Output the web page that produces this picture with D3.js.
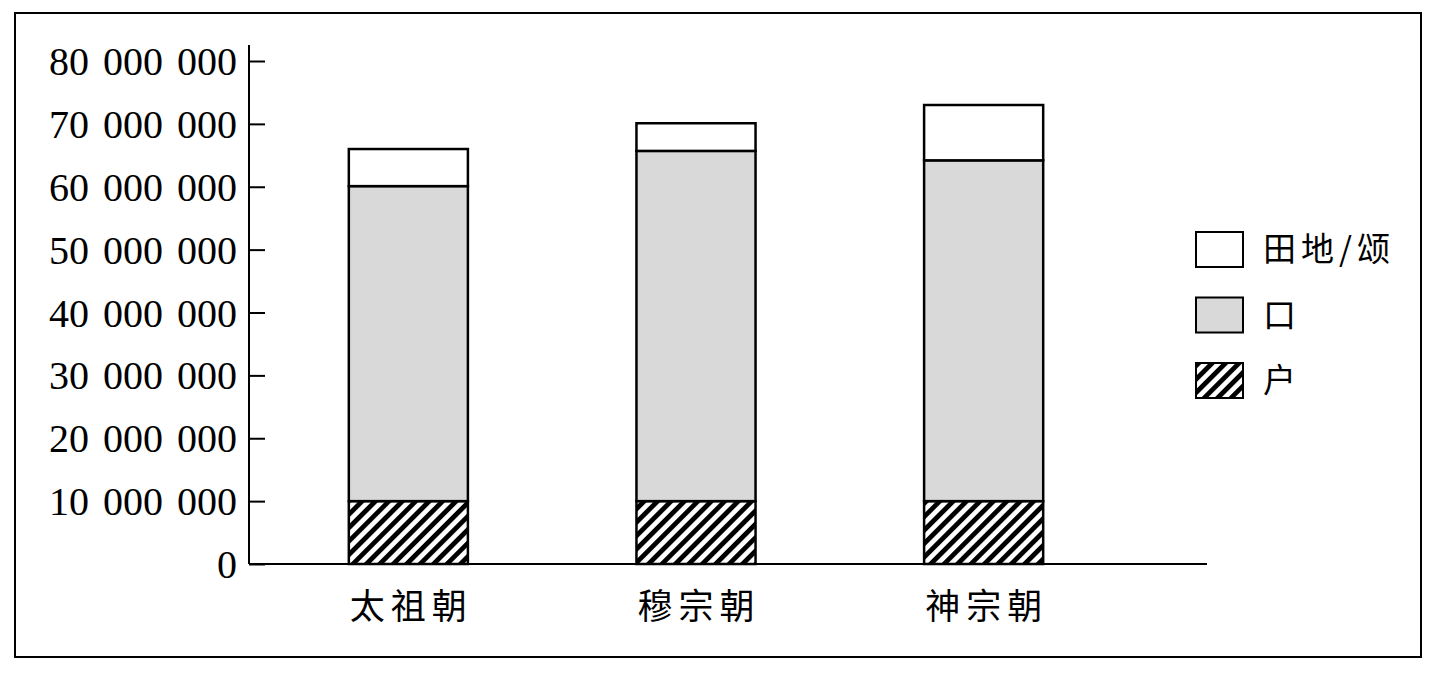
<!DOCTYPE html>
<html><head><meta charset="utf-8">
<script src="https://cdn.jsdelivr.net/npm/d3@7"></script>
<style>
html,body{margin:0;padding:0;background:#fff;}
svg{display:block;}
</style></head>
<body>
<svg id="chart" width="1435" height="675"></svg>
<script>
const categories = ["太祖朝", "穆宗朝", "神宗朝"];
const seriesNames = ["户", "口", "田地/颂"];
const huValues = [10000000, 10000000, 10000000];
const kouValues = [50100000, 55700000, 54200000];
const tianValues = [5900000, 4400000, 8800000];
const yTicks = [0, 10000000, 20000000, 30000000, 40000000, 50000000, 60000000, 70000000, 80000000];

(function () {
const svg = d3.select("#chart");
const serif = "'Liberation Serif','DejaVu Serif',serif";
const cjk = "'Noto Sans CJK SC','Noto Sans CJK JP',sans-serif";

// frame
svg.append("rect").attr("x", 15).attr("y", 13).attr("width", 1406).attr("height", 644)
  .attr("fill", "none").attr("stroke", "#000").attr("stroke-width", 2);

const defs = svg.append("defs");
const pat = defs.append("pattern").attr("id", "hatch").attr("patternUnits", "userSpaceOnUse")
  .attr("width", 9.5).attr("height", 9.5).attr("patternTransform", "rotate(45)");
pat.append("rect").attr("width", 9.5).attr("height", 9.5).attr("fill", "#fff");
pat.append("rect").attr("x", 0).attr("width", 4.8).attr("height", 9.5).attr("fill", "#000");

const pLeft = 249, pRight = 1207, pTop = 61, pBottom = 564;
const y = d3.scaleLinear().domain([0, 80000000]).range([pBottom, pTop]);
const x = d3.scaleBand().domain(categories).range([205, 1187]).paddingInner(0.586).paddingOuter(0.5);

const data = categories.map((c, i) => ({cat: c, hu: huValues[i], kou: kouValues[i], tian: tianValues[i]}));
const stack = d3.stack().keys(["hu", "kou", "tian"])(data);
const fills = {hu: "url(#hatch)", kou: "#d9d9d9", tian: "#fff"};

const g = svg.append("g");
stack.forEach(layer => {
  g.selectAll(null).data(layer).enter().append("rect")
    .attr("x", d => x(d.data.cat))
    .attr("width", x.bandwidth())
    .attr("y", d => y(d[1]))
    .attr("height", d => y(d[0]) - y(d[1]))
    .attr("fill", fills[layer.key])
    .attr("stroke", "#000").attr("stroke-width", 2.5);
});

// y axis
const yAxis = d3.axisRight(y).tickValues(yTicks).tickSize(16).tickFormat(() => "");
const ya = svg.append("g").attr("transform", `translate(${pLeft},0)`).call(yAxis);
ya.select(".domain").attr("d", `M0,${pTop - 16}V${pBottom}`).attr("stroke-width", 2);
ya.selectAll(".tick line").attr("stroke-width", 2);
svg.append("g").selectAll("text").data(yTicks).enter().append("text")
  .attr("x", pLeft - 12).attr("y", d => y(d)).attr("dy", "0.35em")
  .attr("text-anchor", "end").attr("font-family", serif).attr("font-size", 40)
  .attr("word-spacing", 4)
  .text(d => d3.format(",")(d).replace(/,/g, " "));

// x baseline
svg.append("line").attr("x1", pLeft).attr("x2", pRight).attr("y1", pBottom).attr("y2", pBottom)
  .attr("stroke", "#000").attr("stroke-width", 2);

// x labels
svg.append("g").selectAll("text").data(categories).enter().append("text")
  .attr("x", d => x(d) + x.bandwidth() / 2 + 3).attr("y", 607).attr("dy", "0.35em")
  .attr("text-anchor", "middle").attr("font-family", cjk).attr("font-size", 35)
  .attr("letter-spacing", 6)
  .text(d => d);

// legend
const legendItems = [
  {name: seriesNames[2], fill: fills.tian},
  {name: seriesNames[1], fill: fills.kou},
  {name: seriesNames[0], fill: fills.hu}
];
const lg = svg.append("g");
legendItems.forEach((it, i) => {
  const yy = 232 + i * 65.5;
  lg.append("rect").attr("x", 1196).attr("y", yy).attr("width", 47).attr("height", 35)
    .attr("fill", it.fill).attr("stroke", "#000").attr("stroke-width", 2);
  lg.append("text").attr("x", 1263).attr("y", yy + 17.5).attr("dy", "0.35em")
    .attr("font-family", cjk).attr("font-size", 33).attr("letter-spacing", 5).text(it.name);
});
})();
</script>
</body></html>
